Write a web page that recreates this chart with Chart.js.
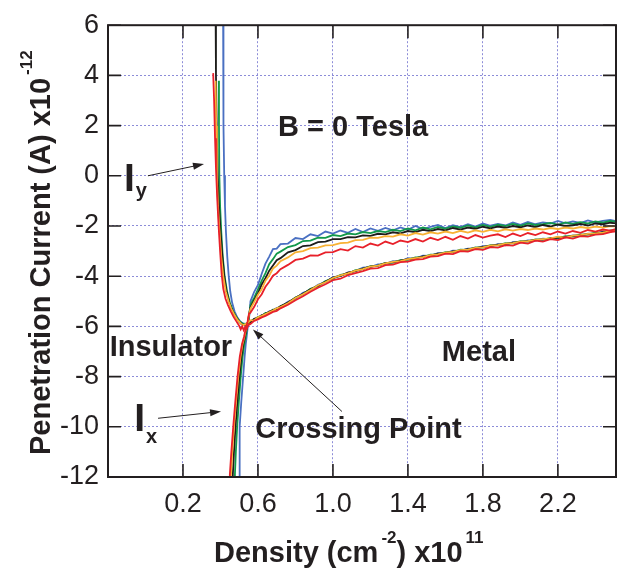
<!DOCTYPE html>
<html lang="en">
  <head>
    <meta charset="utf-8" />
    <title>Penetration Current vs Density</title>
    <script src="https://cdn.jsdelivr.net/npm/chart.js@4.4.0/dist/chart.umd.min.js"></script>
    <style>
      * {
        margin: 0;
        padding: 0;
        box-sizing: border-box;
      }
      body {
        width: 623px;
        height: 572px;
        background: #ffffff;
        overflow: hidden;
      }
    </style>
  </head>
  <body>
    <canvas id="chart" width="623" height="572"></canvas>

    <script>
      // ---- data (density in 1e11 cm^-2, current in 1e-12 A) ----
      const xTickValues = [-0.2, 0.2, 0.6, 1.0, 1.4, 1.8, 2.2];
      const yTickValues = [-12, -10, -8, -6, -4, -2, 0, 2, 4, 6];

      // shared density grid for the slow branches
      const densityGrid = [
        0.56, 0.58, 0.60, 0.62, 0.64, 0.66, 0.68, 0.70,
        0.72, 0.76, 0.80, 0.84, 0.88, 0.92, 0.96, 1.00, 1.04, 1.08,
        1.12, 1.16, 1.20, 1.24, 1.28, 1.32, 1.36, 1.40, 1.44, 1.48,
        1.52, 1.56, 1.60, 1.64, 1.68, 1.72, 1.76, 1.80, 1.84, 1.88,
        1.92, 1.96, 2.00, 2.04, 2.08, 2.12, 2.16, 2.20, 2.24, 2.28,
        2.32, 2.36, 2.40, 2.44, 2.48, 2.52
      ];

      // Ix: steep rise from below, then the upper branch
      const ixSteepY = [-12.5, -11.9, -11.0, -10.0, -9.0, -8.0, -7.2, -6.7, -6.4, -6.05, -5.8, -5.5];
      const ixSteepBlueX = [0.500, 0.501, 0.502, 0.504, 0.511, 0.521, 0.529, 0.535, 0.540, 0.545, 0.550, 0.555];
      const ixSteepGreenX = [0.474, 0.477, 0.482, 0.489, 0.498, 0.508, 0.518, 0.527, 0.535, 0.542, 0.548, 0.554];
      const ixSteepBlackX = [0.463, 0.466, 0.472, 0.480, 0.490, 0.501, 0.512, 0.522, 0.531, 0.540, 0.547, 0.553];
      const ixSteepOrangeX = [0.452, 0.456, 0.463, 0.472, 0.483, 0.495, 0.507, 0.518, 0.528, 0.538, 0.546, 0.553];
      const ixSteepRedX = [0.446, 0.450, 0.458, 0.468, 0.479, 0.491, 0.503, 0.515, 0.526, 0.536, 0.545, 0.552];

      const ixUpperBlue = [
        -5.00, -4.62, -4.35, -3.90, -3.50, -3.22, -2.92, -2.90,
        -2.72, -2.70, -2.48, -2.52, -2.33, -2.40, -2.22, -2.30, -2.18, -2.27,
        -2.12, -2.24, -2.10, -2.19, -2.08, -2.17, -2.06, -2.15, -2.00, -2.12,
        -2.03, -1.96, -2.08, -1.97, -2.04, -1.93, -2.02, -1.90, -1.99, -1.92,
        -1.98, -1.86, -1.95, -1.84, -1.93, -1.86, -1.90, -1.80, -1.89, -1.82,
        -1.88, -1.78, -1.86, -1.80, -1.76, -1.82
      ];
      const ixUpperGreen = [
        -5.15, -4.85, -4.52, -4.18, -3.88, -3.52, -3.32, -3.10,
        -3.02, -2.84, -2.76, -2.60, -2.58, -2.46, -2.47, -2.36, -2.40, -2.30,
        -2.33, -2.24, -2.28, -2.20, -2.24, -2.15, -2.20, -2.10, -2.17, -2.06,
        -2.13, -2.04, -2.10, -2.02, -2.07, -1.98, -2.05, -1.96, -2.03, -1.95,
        -2.00, -1.92, -1.99, -1.90, -1.96, -1.93, -1.88, -1.95, -1.86, -1.92,
        -1.85, -1.90, -1.82, -1.87, -1.80, -1.84
      ];
      const ixUpperBlack = [
        -5.25, -4.95, -4.68, -4.33, -4.08, -3.78, -3.57, -3.36,
        -3.28, -3.05, -2.96, -2.80, -2.77, -2.64, -2.62, -2.52, -2.52, -2.44,
        -2.45, -2.37, -2.39, -2.31, -2.33, -2.25, -2.29, -2.20, -2.24, -2.15,
        -2.20, -2.12, -2.17, -2.08, -2.14, -2.06, -2.11, -2.03, -2.09, -2.02,
        -2.07, -2.00, -2.05, -1.98, -2.04, -1.96, -2.02, -1.94, -2.00, -1.97,
        -1.92, -1.98, -1.90, -1.93, -1.87, -1.90
      ];
      const ixUpperOrange = [
        -5.30, -5.02, -4.74, -4.52, -4.18, -3.97, -3.70, -3.58,
        -3.40, -3.25, -3.05, -3.00, -2.88, -2.86, -2.77, -2.76, -2.68, -2.66,
        -2.56, -2.55, -2.46, -2.47, -2.40, -2.42, -2.33, -2.38, -2.28, -2.34,
        -2.25, -2.30, -2.22, -2.28, -2.19, -2.26, -2.17, -2.23, -2.15, -2.21,
        -2.13, -2.18, -2.12, -2.16, -2.10, -2.14, -2.08, -2.12, -2.06, -2.10,
        -2.04, -2.08, -2.02, -2.06, -2.00, -2.03
      ];
      const ixUpperRed = [
        -5.45, -5.22, -4.92, -4.72, -4.42, -4.22, -3.98, -3.88,
        -3.72, -3.55, -3.35, -3.30, -3.17, -3.18, -3.05, -3.04, -2.92, -2.98,
        -2.80, -2.86, -2.70, -2.78, -2.62, -2.72, -2.58, -2.64, -2.52, -2.62,
        -2.47, -2.56, -2.43, -2.55, -2.40, -2.50, -2.36, -2.46, -2.38, -2.33,
        -2.44, -2.30, -2.40, -2.28, -2.36, -2.25, -2.33, -2.22, -2.30, -2.20,
        -2.27, -2.16, -2.22, -2.14, -2.18, -2.10
      ];

      // Iy: steep fall from above, minimum, then the lower branch
      const iyTopBlueX = [0.414, 0.415, 0.417, 0.420, 0.424, 0.429, 0.436, 0.444, 0.452, 0.462, 0.475, 0.490, 0.505, 0.520, 0.535, 0.548];
      const iyTopBlueY = [6.5, 4.0, 2.0, 0.0, -1.2, -2.2, -3.2, -4.0, -4.6, -5.05, -5.4, -5.65, -5.8, -5.88, -5.9, -5.85];
      const iyTopGreenX = [0.391, 0.392, 0.394, 0.398, 0.404, 0.412, 0.422, 0.435, 0.450, 0.465, 0.483, 0.500, 0.516, 0.532, 0.546];
      const iyTopGreenY = [3.79, 2.0, 0.0, -1.2, -2.2, -3.2, -4.0, -4.6, -5.05, -5.35, -5.6, -5.78, -5.88, -5.92, -5.84];
      const iyTopBlackX = [0.374, 0.376, 0.380, 0.385, 0.392, 0.400, 0.410, 0.420, 0.432, 0.447, 0.462, 0.480, 0.498, 0.514, 0.530, 0.545];
      const iyTopBlackY = [6.5, 4.0, 2.0, 0.0, -1.2, -2.2, -3.2, -4.0, -4.6, -5.05, -5.35, -5.6, -5.8, -5.92, -5.95, -5.88];
      const iyTopOrangeX = [0.374, 0.377, 0.381, 0.387, 0.395, 0.404, 0.415, 0.428, 0.443, 0.458, 0.475, 0.492, 0.508, 0.522, 0.536, 0.548];
      const iyTopOrangeY = [3.79, 2.0, 0.0, -1.2, -2.2, -3.2, -4.0, -4.6, -5.0, -5.3, -5.55, -5.75, -5.88, -5.95, -5.9, -5.85];
      const iyTopRedX = [0.361, 0.366, 0.371, 0.376, 0.382, 0.390, 0.398, 0.406, 0.415, 0.427, 0.440, 0.455, 0.470, 0.485, 0.498, 0.508, 0.516, 0.524, 0.532, 0.540, 0.548];
      const iyTopRedY = [4.09, 3.0, 1.5, 0.3, -0.8, -2.0, -3.0, -3.9, -4.5, -4.9, -5.15, -5.4, -5.62, -5.8, -5.95, -6.12, -6.0, -6.15, -6.02, -6.1, -5.95];

      const iyLowerBlue = [
        -5.82, -5.70, -5.68, -5.55, -5.52, -5.40, -5.38, -5.26,
        -5.24, -5.02, -4.90, -4.66, -4.56, -4.34, -4.24, -4.04, -4.00, -3.86,
        -3.80, -3.66, -3.64, -3.53, -3.52, -3.40, -3.41, -3.28, -3.30, -3.18,
        -3.19, -3.08, -3.09, -2.98, -2.99, -2.90, -2.90, -2.80, -2.81, -2.72,
        -2.77, -2.64, -2.65, -2.57, -2.58, -2.50, -2.52, -2.44, -2.45, -2.37,
        -2.38, -2.30, -2.31, -2.22, -2.22, -2.14
      ];
      const iyLowerGreen = [
        -5.78, -5.74, -5.62, -5.60, -5.46, -5.45, -5.33, -5.32,
        -5.20, -5.08, -4.85, -4.72, -4.50, -4.40, -4.19, -4.10, -3.95, -3.90,
        -3.76, -3.72, -3.60, -3.58, -3.47, -3.46, -3.36, -3.35, -3.25, -3.24,
        -3.14, -3.14, -3.04, -3.04, -2.94, -2.95, -2.85, -2.86, -2.76, -2.77,
        -2.68, -2.69, -2.60, -2.62, -2.53, -2.55, -2.47, -2.49, -2.40, -2.42,
        -2.33, -2.34, -2.26, -2.28, -2.18, -2.18
      ];
      const iyLowerBlack = [
        -5.84, -5.70, -5.66, -5.56, -5.50, -5.42, -5.35, -5.30,
        -5.20, -5.05, -4.86, -4.70, -4.52, -4.38, -4.22, -4.06, -3.99, -3.86,
        -3.80, -3.70, -3.62, -3.58, -3.48, -3.45, -3.38, -3.32, -3.29, -3.21,
        -3.18, -3.10, -3.08, -3.01, -2.98, -2.92, -2.88, -2.83, -2.79, -2.74,
        -2.72, -2.66, -2.63, -2.60, -2.55, -2.53, -2.50, -2.46, -2.44, -2.39,
        -2.37, -2.32, -2.30, -2.24, -2.21, -2.16
      ];
      const iyLowerOrange = [
        -5.76, -5.75, -5.64, -5.58, -5.51, -5.44, -5.37, -5.28,
        -5.23, -5.08, -4.87, -4.72, -4.55, -4.36, -4.24, -4.07, -3.97, -3.89,
        -3.78, -3.72, -3.62, -3.58, -3.49, -3.43, -3.40, -3.32, -3.28, -3.24,
        -3.16, -3.13, -3.06, -3.03, -2.96, -2.94, -2.87, -2.85, -2.78, -2.76,
        -2.70, -2.68, -2.62, -2.60, -2.55, -2.52, -2.49, -2.42, -2.46, -2.38,
        -2.36, -2.31, -2.29, -2.26, -2.20, -2.17
      ];
      const iyLowerRed = [
        -5.90, -5.78, -5.72, -5.64, -5.58, -5.50, -5.42, -5.38,
        -5.28, -5.14, -4.96, -4.80, -4.62, -4.46, -4.32, -4.16, -4.10, -3.96,
        -3.88, -3.80, -3.70, -3.68, -3.56, -3.54, -3.44, -3.42, -3.34, -3.32,
        -3.22, -3.20, -3.10, -3.12, -3.00, -3.02, -2.92, -2.95, -2.84, -2.86,
        -2.76, -2.78, -2.66, -2.70, -2.58, -2.62, -2.52, -2.56, -2.45, -2.50,
        -2.40, -2.42, -2.34, -2.32, -2.24, -2.20
      ];

      // ---- styling ----
      const FONT = "'Liberation Sans', Arial, Helvetica, sans-serif";
      const INK = "#231f20";
      const colors = {
        blue: "#4a70c2",
        green: "#12994a",
        black: "#1d1d1b",
        orange: "#f8b234",
        red: "#e8202a",
      };

      const zip = (xs, ys) => xs.map((x, i) => ({ x: x, y: ys[i] }));

      const curves = [
        // name, Ix steep x, Ix upper y, Iy top x, Iy top y, Iy lower y, draw order
        ["blue", ixSteepBlueX, ixUpperBlue, iyTopBlueX, iyTopBlueY, iyLowerBlue, 5],
        ["green", ixSteepGreenX, ixUpperGreen, iyTopGreenX, iyTopGreenY, iyLowerGreen, 4],
        ["black", ixSteepBlackX, ixUpperBlack, iyTopBlackX, iyTopBlackY, iyLowerBlack, 3],
        ["orange", ixSteepOrangeX, ixUpperOrange, iyTopOrangeX, iyTopOrangeY, iyLowerOrange, 2],
        ["red", ixSteepRedX, ixUpperRed, iyTopRedX, iyTopRedY, iyLowerRed, 1],
      ];

      const datasets = [];
      curves.forEach(([name, sx, up, tx, ty, low, ord]) => {
        datasets.push({
          label: "Ix " + name,
          data: zip(sx, ixSteepY).concat(zip(densityGrid, up)),
          borderColor: colors[name],
          borderWidth: 1.8,
          pointRadius: 0,
          order: ord,
        });
        datasets.push({
          label: "Iy " + name,
          data: zip(tx, ty).concat(zip(densityGrid, low)),
          borderColor: colors[name],
          borderWidth: 1.8,
          pointRadius: 0,
          order: ord,
        });
      });

      // text notes placed in data units
      const notes = [
        { text: "B = 0 Tesla", x: 0.707, y: 1.58 },
        { text: "Insulator", x: -0.191, y: -7.16 },
        { text: "Metal", x: 1.581, y: -7.37 },
        { text: "Crossing Point", x: 0.586, y: -10.43 },
      ];
      const currentLabels = [
        { sub: "y", x: -0.115, y: -0.62, drop: 5.5 },
        { sub: "x", x: -0.06, y: -10.17, drop: 11.5 },
      ];
      const arrows = [
        { from: [0.013, 0.0], to: [0.312, 0.47] },
        { from: [0.067, -9.66], to: [0.403, -9.39] },
        { from: [1.048, -9.39], to: [0.573, -6.12] },
      ];

      // draw runs of text with super/subscripts, left to right
      function drawRuns(ctx, runs, x0, y0) {
        let x = x0;
        runs.forEach((r) => {
          ctx.font = "bold " + r.size + "px " + FONT;
          x += r.gap || 0;
          ctx.fillText(r.text, x, y0 - (r.raise || 0));
          x += ctx.measureText(r.text).width;
        });
      }

      const framePlugin = {
        id: "frame",
        afterDatasetsDraw(chart) {
          const { ctx, chartArea: a, scales } = chart;
          const sx = scales.x;
          const sy = scales.y;
          ctx.save();

          // box and inward ticks
          ctx.strokeStyle = INK;
          ctx.lineWidth = 2;
          ctx.strokeRect(a.left, a.top, a.right - a.left, a.bottom - a.top);
          ctx.lineWidth = 1.6;
          ctx.beginPath();
          xTickValues.forEach((v) => {
            const px = sx.getPixelForValue(v);
            ctx.moveTo(px, a.top);
            ctx.lineTo(px, a.top + 13);
            ctx.moveTo(px, a.bottom);
            ctx.lineTo(px, a.bottom - 13);
          });
          yTickValues.forEach((v) => {
            const py = sy.getPixelForValue(v);
            ctx.moveTo(a.left, py);
            ctx.lineTo(a.left + 13, py);
            ctx.moveTo(a.right, py);
            ctx.lineTo(a.right - 13, py);
          });
          ctx.stroke();

          // arrows
          ctx.lineWidth = 1;
          ctx.fillStyle = INK;
          arrows.forEach((ar) => {
            const x1 = sx.getPixelForValue(ar.from[0]);
            const y1 = sy.getPixelForValue(ar.from[1]);
            const x2 = sx.getPixelForValue(ar.to[0]);
            const y2 = sy.getPixelForValue(ar.to[1]);
            const ang = Math.atan2(y2 - y1, x2 - x1);
            ctx.beginPath();
            ctx.moveTo(x1, y1);
            ctx.lineTo(x2 - 8 * Math.cos(ang), y2 - 8 * Math.sin(ang));
            ctx.stroke();
            ctx.beginPath();
            ctx.moveTo(x2, y2);
            ctx.lineTo(x2 - 11 * Math.cos(ang) + 3.5 * Math.sin(ang), y2 - 11 * Math.sin(ang) - 3.5 * Math.cos(ang));
            ctx.lineTo(x2 - 11 * Math.cos(ang) - 3.5 * Math.sin(ang), y2 - 11 * Math.sin(ang) + 3.5 * Math.cos(ang));
            ctx.closePath();
            ctx.fill();
          });

          // notes
          ctx.textBaseline = "alphabetic";
          ctx.textAlign = "left";
          notes.forEach((n) => {
            drawRuns(ctx, [{ text: n.text, size: 29 }], sx.getPixelForValue(n.x), sy.getPixelForValue(n.y));
          });
          currentLabels.forEach((c) => {
            drawRuns(
              ctx,
              [
                { text: "I", size: 39 },
                { text: c.sub, size: 20, raise: -c.drop, gap: 1 },
              ],
              sx.getPixelForValue(c.x),
              sy.getPixelForValue(c.y)
            );
          });

          // axis titles
          drawRuns(
            ctx,
            [
              { text: "Density (cm", size: 29 },
              { text: "-2", size: 17, raise: 19, gap: 3 },
              { text: ") x10", size: 29 },
              { text: "11", size: 17, raise: 19, gap: 3 },
            ],
            a.left + 106,
            a.bottom + 85
          );
          ctx.translate(50, a.bottom - 22);
          ctx.rotate(-Math.PI / 2);
          drawRuns(
            ctx,
            [
              { text: "Penetration Current (A) x10", size: 29 },
              { text: "-12", size: 17, raise: 18, gap: 3 },
            ],
            0,
            0
          );
          ctx.restore();
        },
      };

      new Chart(document.getElementById("chart"), {
        type: "line",
        data: { datasets: datasets },
        plugins: [framePlugin],
        options: {
          responsive: false,
          animation: false,
          layout: {
            autoPadding: false,
            padding: { left: 0, right: 7, top: 15, bottom: 0 },
          },
          plugins: {
            legend: { display: false },
            tooltip: { enabled: false },
          },
          elements: { line: { tension: 0, fill: false } },
          scales: {
            x: {
              type: "linear",
              min: -0.2,
              max: 2.51,
              afterBuildTicks: (s) => {
                s.ticks = xTickValues.map((v) => ({ value: v }));
              },
              afterFit: (s) => {
                s.height = 95;
              },
              ticks: {
                callback: (v) => (v < 0 ? "" : Number(v).toFixed(1)),
                font: { family: FONT, size: 27 },
                color: INK,
                padding: 11,
                maxRotation: 0,
                autoSkip: false,
              },
              grid: {
                color: "#8c8cd8",
                lineWidth: 1,
                drawTicks: false,
              },
              border: { display: false, dash: [2, 2] },
            },
            y: {
              type: "linear",
              min: -12,
              max: 6,
              afterBuildTicks: (s) => {
                s.ticks = yTickValues.map((v) => ({ value: v }));
              },
              afterFit: (s) => {
                s.width = 108;
              },
              ticks: {
                callback: (v) => String(v),
                font: { family: FONT, size: 27 },
                color: INK,
                padding: 9,
                autoSkip: false,
              },
              grid: {
                color: "#8c8cd8",
                lineWidth: 1,
                drawTicks: false,
              },
              border: { display: false, dash: [2, 2] },
            },
          },
        },
      });
    </script>
  </body>
</html>
